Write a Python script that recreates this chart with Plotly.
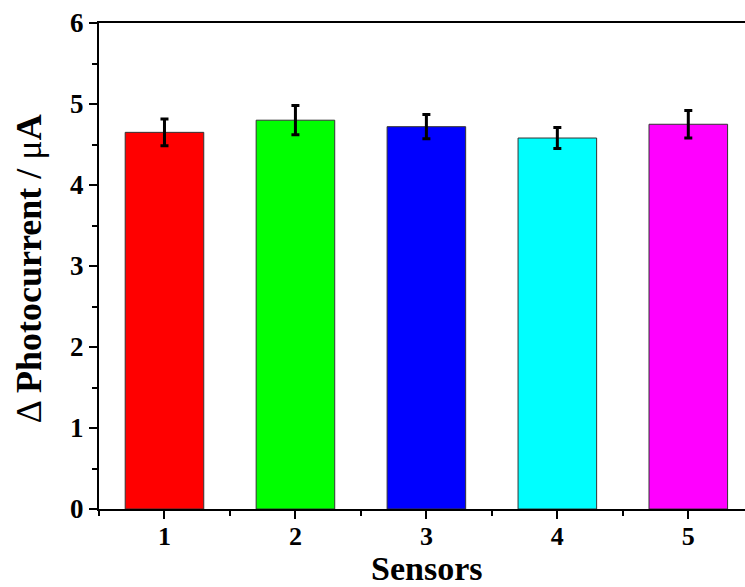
import plotly.graph_objects as go

# Sensor response data
sensors = [1, 2, 3, 4, 5]
photocurrent = [4.65, 4.80, 4.72, 4.58, 4.75]
errors = [0.165, 0.18, 0.15, 0.13, 0.17]
bar_colors = ["#ff0000", "#00ff00", "#0000ff", "#00ffff", "#ff00ff"]

FONT = "'Liberation Serif', 'Times New Roman', serif"

fig = go.Figure(
    go.Bar(
        x=sensors,
        y=photocurrent,
        width=0.6,
        marker=dict(color=bar_colors, line=dict(color="#333333", width=1)),
        error_y=dict(type="data", array=errors, color="black", thickness=3, width=4),
    )
)

fig.update_layout(
    width=745,
    height=587,
    margin=dict(l=99, r=0, t=23, b=78),
    paper_bgcolor="white",
    plot_bgcolor="white",
    showlegend=False,
    font=dict(family=FONT, color="black"),
)

fig.update_xaxes(
    range=[0.5, 5.433],
    tickvals=sensors,
    ticks="outside",
    ticklen=8,
    tickwidth=2,
    tickcolor="black",
    ticklabelstandoff=-5,
    minor=dict(dtick=0.5, tick0=0.5, ticks="outside", ticklen=5, tickwidth=2, tickcolor="black"),
    showline=True,
    linecolor="black",
    linewidth=2,
    mirror=True,
    showgrid=False,
    zeroline=False,
    tickfont=dict(family=FONT, size=26, color="black", weight="bold"),
)

fig.update_yaxes(
    range=[0, 6],
    dtick=1,
    ticks="outside",
    ticklen=8,
    tickwidth=2,
    tickcolor="black",
    minor=dict(dtick=0.5, ticks="outside", ticklen=5, tickwidth=2, tickcolor="black"),
    showline=True,
    linecolor="black",
    linewidth=2,
    mirror=False,
    showgrid=False,
    zeroline=False,
    tickfont=dict(family=FONT, size=27, color="black", weight="bold"),
)

# Axis titles
fig.add_annotation(
    text="<b>Sensors</b>",
    xref="x", yref="paper", x=3, y=-0.162,
    xanchor="center", yanchor="bottom", showarrow=False, borderpad=0,
    font=dict(family=FONT, size=34, color="black"),
)
fig.add_annotation(
    text="Δ <b>Photocurrent / </b>μ<b>A</b>",
    xref="paper", yref="paper", x=-0.108, y=0.494,
    xanchor="center", yanchor="middle", textangle=-90, showarrow=False,
    font=dict(family=FONT, size=36, color="black"),
)

fig.write_html("out.html")
